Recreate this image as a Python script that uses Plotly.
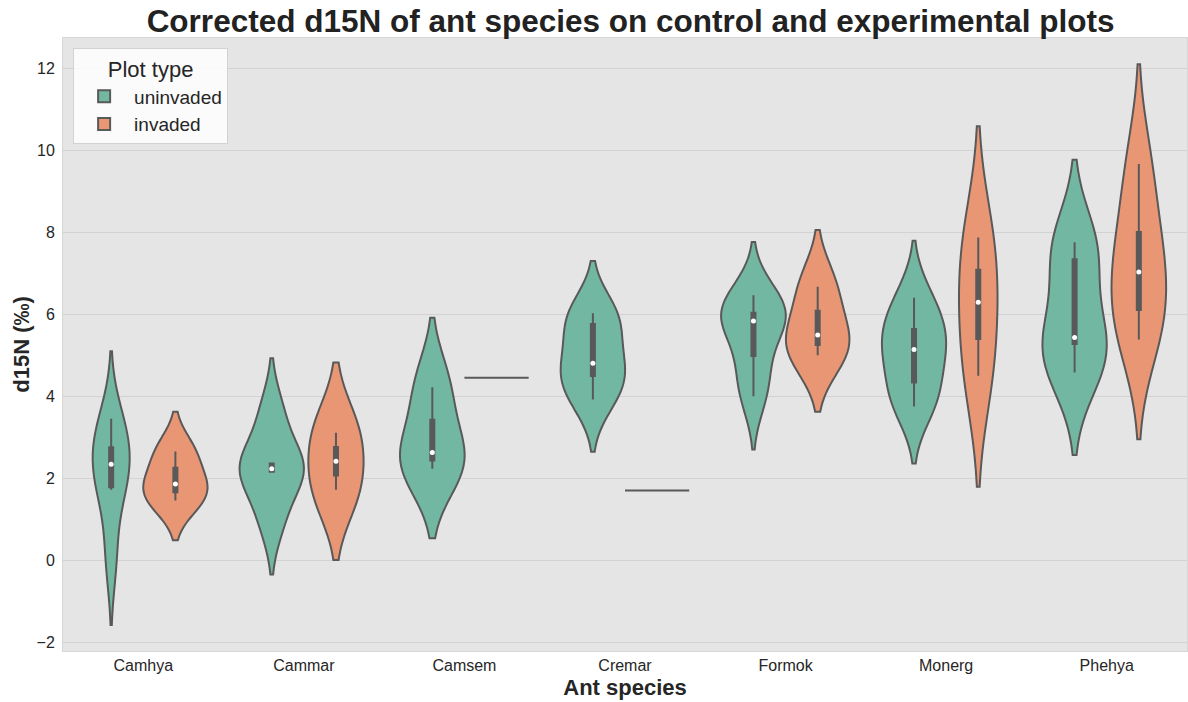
import numpy as np
import plotly.graph_objects as go

# ---------------- data ----------------
species = ["Camhya", "Cammar", "Camsem", "Cremar", "Formok", "Monerg", "Phehya"]
plot_types = ["uninvaded", "invaded"]

uninvaded_values = [
    [0.08, 1.73, 1.97, 2.73, 2.78, 3.46],   # Camhya
    [1.00, 2.17, 2.24, 2.37, 3.60],         # Cammar
    [2.24, 2.64, 4.23],                     # Camsem
    [3.93, 4.50, 4.81, 5.77, 6.03],         # Cremar
    [4.01, 4.74, 5.75, 5.93, 6.08, 6.47],   # Formok
    [3.76, 4.14, 4.95, 5.35, 5.75, 6.41],   # Monerg
    [4.59, 5.28, 5.44, 7.35, 7.76],         # Phehya
]
invaded_values = [
    [1.47, 1.87, 2.66],                     # Camhya
    [1.73, 3.12],                           # Cammar
    [4.46],                                 # Camsem
    [1.71],                                 # Cremar
    [5.01, 5.50, 6.68],                     # Formok
    [4.51, 6.30, 7.88],                     # Monerg
    [5.39, 6.11, 7.04, 8.01, 9.67],         # Phehya
]

# ---------------- styles ----------------
colors = {"uninvaded": "rgb(114,183,161)", "invaded": "rgb(233,150,117)"}
gray = "#595959"
hue_offset = {"uninvaded": -0.2, "invaded": 0.2}
violin_width = 0.4
values_by_hue = {"uninvaded": uninvaded_values, "invaded": invaded_values}


def scott_bw(v):
    return v.std(ddof=1) * v.size ** (-0.2)


def kde_peak(v, bw):
    grid = np.linspace(v.min() - 2 * bw, v.max() + 2 * bw, 600)
    dens = np.exp(-0.5 * ((grid[:, None] - v[None, :]) / bw) ** 2).sum(axis=1)
    return (dens / (v.size * bw * np.sqrt(2 * np.pi))).max()


# peak density of every violin -> widths scaled within each species (seaborn "area", scale_hue)
peaks = {}
for hue in plot_types:
    for sp, vals in zip(species, values_by_hue[hue]):
        v = np.asarray(vals, dtype=float)
        if v.size > 1:
            peaks[(hue, sp)] = kde_peak(v, scott_bw(v))
group_max = {sp: max(p for (h, s), p in peaks.items() if s == sp) for sp in species}

fig = go.Figure()

box_x, q1s, meds, q3s, los, his = [], [], [], [], [], []
single_x, single_y = [], []

for hue in plot_types:
    first = True
    for i, (sp, vals) in enumerate(zip(species, values_by_hue[hue])):
        v = np.asarray(vals, dtype=float)
        pos = i + hue_offset[hue]
        if v.size == 1:
            single_x.append(pos)
            single_y.append(v[0])
            continue
        bw = scott_bw(v)
        w = violin_width * peaks[(hue, sp)] / group_max[sp]
        fig.add_trace(go.Violin(
            x=[pos] * v.size, y=v, name=hue, legendgroup=hue, showlegend=first,
            scalegroup=f"{hue}-{sp}", scalemode="width", width=w,
            bandwidth=bw, spanmode="soft", points=False,
            fillcolor=colors[hue], line=dict(color=gray, width=2),
            box_visible=False, meanline_visible=False, hoverinfo="skip",
        ))
        first = False
        q1, med, q3 = np.percentile(v, [25, 50, 75])
        iqr = q3 - q1
        box_x.append(pos)
        q1s.append(q1)
        meds.append(med)
        q3s.append(q3)
        los.append(v[v >= q1 - 1.5 * iqr].min())
        his.append(v[v <= q3 + 1.5 * iqr].max())

# single observations -> drawn as a line by the violin trace
fig.add_trace(go.Violin(
    x=single_x, y=single_y, scalegroup="single", scalemode="width",
    width=violin_width, points=False, showlegend=False,
    fillcolor=gray, line=dict(color=gray, width=2),
    box_visible=False, meanline_visible=False, hoverinfo="skip",
))

# inner box
fig.add_trace(go.Box(
    x=box_x, q1=q1s, median=meds, q3=q3s, lowerfence=los, upperfence=his,
    width=0.025, whiskerwidth=0, fillcolor=gray, line=dict(color=gray, width=2),
    boxpoints=False, showlegend=False, hoverinfo="skip",
))
# median dots
fig.add_trace(go.Scatter(
    x=box_x, y=meds, mode="markers", marker=dict(color="white", size=5),
    showlegend=False, hoverinfo="skip",
))

font_family = "Liberation Sans, Arial, sans-serif"
fig.update_layout(
    width=1188, height=702,
    margin=dict(l=63, r=1, t=38, b=51),
    paper_bgcolor="white", plot_bgcolor="rgb(229,229,229)",
    font=dict(family=font_family, color="#262626", size=16),
    violinmode="overlay", boxmode="overlay",
    title=dict(text="<b>Corrected d15N of ant species on control and experimental plots</b>",
               x=0.505, xref="paper", xanchor="center", y=0.970, yanchor="middle",
               font=dict(size=31.5, color="#222222", family=font_family)),
    legend=dict(
        title=dict(text="Plot type", side="top center", font=dict(size=22)),
        font=dict(size=19), x=0.009, y=0.984, xanchor="left", yanchor="top",
        bgcolor="rgba(255,255,255,0.85)", bordercolor="rgb(210,210,210)", borderwidth=1,
        itemwidth=50, tracegroupgap=0,
    ),
    xaxis=dict(
        range=[-0.5, 6.5], tickmode="array", tickvals=list(range(len(species))),
        ticktext=species, showgrid=False, zeroline=False, ticks="",
        tickfont=dict(size=16, color="#262626"), ticklabelstandoff=0,
        title=dict(text="<b>Ant species</b>", font=dict(size=22), standoff=6),
        showline=True, mirror=True, linecolor="rgb(215,215,215)", linewidth=1,
        automargin=False,
    ),
    yaxis=dict(
        range=[-2.20, 12.74], tickmode="array", tickvals=list(range(-2, 13, 2)),
        showgrid=True, gridcolor="rgb(210,210,210)", gridwidth=1, zeroline=False,
        ticks="", tickfont=dict(size=16, color="#262626"), ticklabelstandoff=4,
        title=dict(text="<b>d15N (‰)</b>", font=dict(size=22), standoff=0),
        showline=True, mirror=True, linecolor="rgb(215,215,215)", linewidth=1,
        automargin=False,
    ),
)

fig.write_html("out.html", config={"displayModeBar": False},
               post_script="document.body.style.margin='0px';")
